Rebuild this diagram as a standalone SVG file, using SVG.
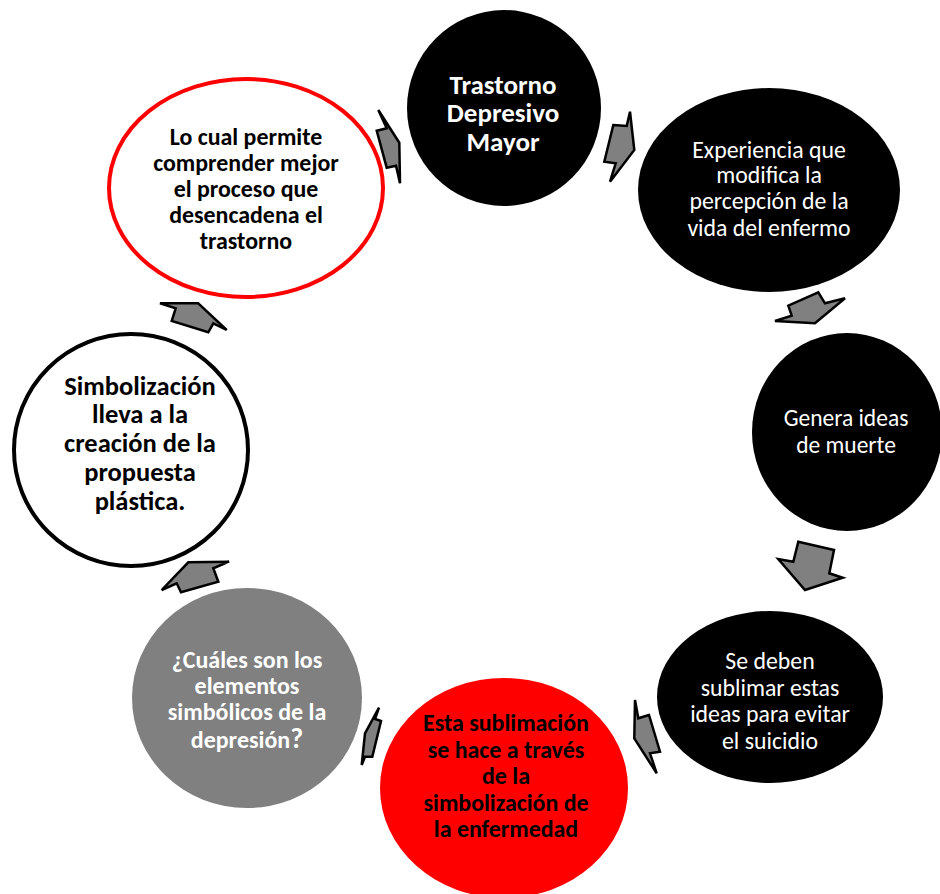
<svg xmlns="http://www.w3.org/2000/svg" width="940" height="894" viewBox="0 0 940 894">
<style>
.t{font-family:Carlito,"Open Sans","Liberation Sans",sans-serif;text-anchor:middle}
.b{font-weight:bold}
.w{fill:#fff}
.k{fill:#000}
.arr{fill:#808080;stroke:#000;stroke-width:2.5;stroke-linejoin:miter}
</style>
<rect width="940" height="894" fill="#fff"/>
<g id="connectors">
<polygon class="arr" points="376.7,130.7 386.7,128.3 378.3,110 399.3,142.7 400,183.3 396,165.7 386.7,167.7"/>
<polygon class="arr" points="613.3,125 626.7,126 630,111.7 634.3,150 610,181.7 615.7,163.3 604.3,161.7"/>
<polygon class="arr" points="788.3,305.7 791.7,315.7 775,321 815,323.3 845,298.3 825,303.3 818.3,292.3"/>
<polygon class="arr" points="798.3,541.7 793.3,561.7 778.3,559 805,590 842.7,577.7 829.3,573.3 834,550"/>
<polygon class="arr" points="649,715 638.3,718.3 635,700 634.3,738.3 656.7,773.3 650,753.3 660,751.7"/>
<polygon class="arr" points="381,721 375,719 379,707.7 365,733.3 361.7,765 365,756.7 372.3,756.7"/>
<polygon class="arr" points="188.3,562.3 229,561.7 213.3,568.3 218.3,581.7 181,592.3 176.7,583.3 161.7,590"/>
<polygon class="arr" points="198.3,303.3 226.7,330 213.3,323.3 208.3,332.3 171.7,321 175.7,308.3 160,303.3"/>
</g>
<g id="node1">
<ellipse cx="504" cy="108" rx="97" ry="98" fill="#000"/>
<text class="t b w" font-size="27"><tspan x="503" y="94">Trastorno</tspan><tspan x="503" y="122">Depresivo</tspan><tspan x="503" y="151">Mayor</tspan></text>
</g>
<g id="node2">
<ellipse cx="769" cy="190" rx="131" ry="102" fill="#000"/>
<text class="t w" font-size="23.8"><tspan x="769" y="158">Experiencia que</tspan><tspan x="769" y="183">modifica la</tspan><tspan x="769" y="209">percepción de la</tspan><tspan x="769" y="236">vida del enfermo</tspan></text>
</g>
<g id="node3">
<ellipse cx="847" cy="432" rx="95" ry="99" fill="#000"/>
<text class="t w" font-size="23.5"><tspan x="846" y="426">Genera ideas</tspan><tspan x="846" y="453">de muerte</tspan></text>
</g>
<g id="node4">
<ellipse cx="770" cy="697" rx="113" ry="86" fill="#000"/>
<text class="t w" font-size="23.8"><tspan x="770" y="669">Se deben</tspan><tspan x="770" y="696">sublimar estas</tspan><tspan x="770" y="722">ideas para evitar</tspan><tspan x="770" y="749">el suicidio</tspan></text>
</g>
<g id="node5">
<ellipse cx="504" cy="788" rx="124" ry="110" fill="#ff0000"/>
<text class="t b k" font-size="23.9"><tspan x="506" y="731">Esta sublimación</tspan><tspan x="506" y="758">se hace a través</tspan><tspan x="506" y="784">de la</tspan><tspan x="506" y="811">simbolización de</tspan><tspan x="506" y="837">la enfermedad</tspan></text>
</g>
<g id="node6">
<ellipse cx="247" cy="698" rx="115" ry="110" fill="#808080"/>
<text class="t b w" font-size="24"><tspan x="247" y="668">¿Cuáles son los</tspan><tspan x="247" y="694">elementos</tspan><tspan x="247" y="720">simbólicos de la</tspan><tspan x="247" y="748">depresión<tspan font-size="28">?</tspan></tspan></text>
</g>
<g id="node7">
<ellipse cx="131" cy="450" rx="117" ry="116" fill="#fff" stroke="#000" stroke-width="4"/>
<text class="t b k" font-size="26.5"><tspan x="140" y="395">Simbolización</tspan><tspan x="140" y="423">lleva a la</tspan><tspan x="140" y="452">creación de la</tspan><tspan x="140" y="481">propuesta</tspan><tspan x="140" y="510">plástica.</tspan></text>
</g>
<g id="node8">
<ellipse cx="246" cy="188" rx="137" ry="109" fill="#fff" stroke="#ff0000" stroke-width="4"/>
<text class="t b k" font-size="23.9"><tspan x="246" y="145">Lo cual permite</tspan><tspan x="246" y="171">comprender mejor</tspan><tspan x="246" y="197">el proceso que</tspan><tspan x="246" y="223">desencadena el</tspan><tspan x="246" y="249">trastorno</tspan></text>
</g>
</svg>
